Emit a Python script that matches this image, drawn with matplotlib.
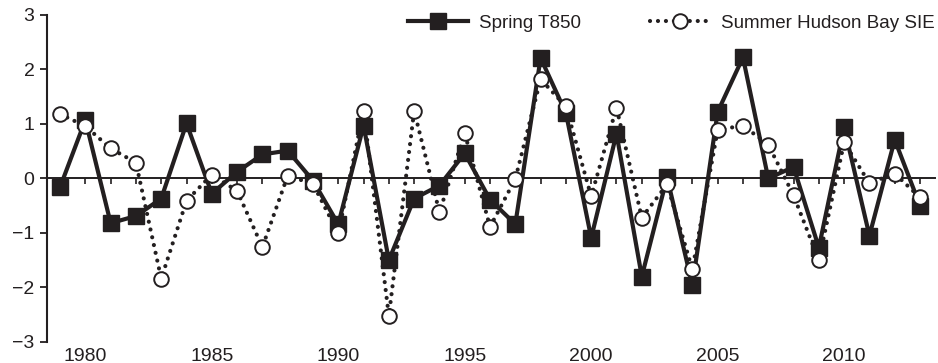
import matplotlib
matplotlib.use("Agg")
import matplotlib.pyplot as plt
import matplotlib.transforms as mtransforms

plt.rcParams['font.family'] = ['Liberation Sans', 'DejaVu Sans']

# 数据
years = list(range(1979, 2014))
spring_t850 = [-0.16, 1.07, -0.82, -0.69, -0.37, 1.01, -0.28, 0.12, 0.44, 0.51,
               -0.04, -0.84, 0.97, -1.50, -0.37, -0.13, 0.46, -0.39, -0.84, 2.21,
               1.20, -1.09, 0.82, -1.80, 0.02, -1.96, 1.22, 2.22, 0.00, 0.21,
               -1.27, 0.94, -1.05, 0.71, -0.50]
summer_sie = [1.18, 0.96, 0.55, 0.29, -1.84, -0.41, 0.07, -0.23, -1.26, 0.05,
              -0.10, -1.01, 1.24, -2.52, 1.24, -0.62, 0.83, -0.89, -0.01, 1.82,
              1.32, -0.33, 1.30, -0.72, -0.11, -1.67, 0.89, 0.97, 0.62, -0.31,
              -1.50, 0.66, -0.09, 0.09, -0.35]
year_labels = [1980, 1985, 1990, 1995, 2000, 2005, 2010]
y_ticks = [-3, -2, -1, 0, 1, 2, 3]

ink = '#231f20'

fig = plt.figure(figsize=(9.38, 3.63), dpi=100)
ax = fig.add_axes([0.050, 0.058, 0.947, 0.901])

# 两条曲线
ax.plot(years, spring_t850, color=ink, lw=3.0, marker='s', ms=11.5,
        mfc=ink, mec=ink, label='Spring T850', zorder=3)
ax.plot(years, summer_sie, color=ink, lw=3.0, linestyle=(0, (0.01, 1.9)),
        dash_capstyle='round', marker='o', ms=10.5, mfc='white', mec=ink,
        mew=1.4, label='Summer Hudson Bay SIE', zorder=4)

# 坐标轴
ax.set_xlim(1978.48, 2013.6)
ax.set_ylim(-3, 3)
ax.spines['top'].set_visible(False)
ax.spines['right'].set_visible(False)
ax.spines['bottom'].set_position(('data', 0))
ax.spines['bottom'].set_linewidth(1.4)
ax.spines['left'].set_linewidth(1.5)
ax.spines['bottom'].set_color(ink)
ax.spines['left'].set_color(ink)

ax.set_xticks(years)
ax.tick_params(axis='x', direction='out', length=4, width=1.2, color=ink,
               labelbottom=False)
ax.set_yticks(y_ticks)
ax.set_yticklabels([str(v).replace('-', '\u2212') for v in y_ticks])
ax.tick_params(axis='y', direction='out', length=5, width=1.3, color=ink,
               labelsize=14, labelcolor=ink, pad=4)

# 年份标签放在底部
trans = mtransforms.blended_transform_factory(ax.transData, ax.transAxes)
for yr in year_labels:
    ax.text(yr, -0.018, str(yr), transform=trans, ha='center', va='top',
            fontsize=14, color=ink, clip_on=False)

leg = ax.legend(loc='upper right', ncol=2, frameon=False, fontsize=13.5,
                handlelength=3.2, columnspacing=3.65, handletextpad=0.6,
                bbox_to_anchor=(1.008, 1.023), borderaxespad=0)
for t in leg.get_texts():
    t.set_color(ink)

fig.savefig('out.png', dpi=100)
